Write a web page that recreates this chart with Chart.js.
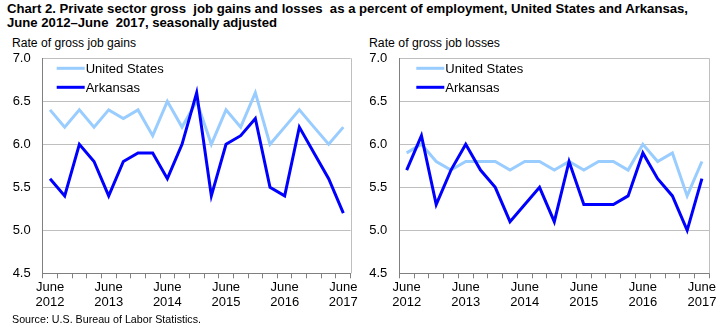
<!DOCTYPE html>
<html>
<head>
<meta charset="utf-8">
<script src="https://cdn.jsdelivr.net/npm/chart.js@4/dist/chart.umd.min.js"></script>
<style>
  html, body { margin: 0; padding: 0; background: #fff; }
  body { width: 726px; height: 333px; position: relative; overflow: hidden;
         font-family: "Liberation Sans", Arial, sans-serif; color: #000; }
  .txt { position: absolute; white-space: nowrap; transform-origin: left center; display: inline-block; }
  .title { font-weight: bold; font-size: 12.5px; line-height: 14px; }
  .axis-title { font-size: 12px; line-height: 14px; }
  .source { font-size: 11px; line-height: 13px; }
  .panel { position: absolute; top: 50px; }
</style>
</head>
<body>
<div class="txt title" style="left:7px; top:2px;" data-w="681">Chart 2. Private sector gross&nbsp; job gains and losses&nbsp; as a percent of employment, United States and Arkansas,</div>
<div class="txt title" style="left:7px; top:16px;" data-w="270">June 2012–June&nbsp; 2017, seasonally adjusted</div>
<div class="txt axis-title" style="left:12px; top:36px;" data-w="124">Rate of gross job gains</div>
<div class="txt axis-title" style="left:369px; top:36px;" data-w="131">Rate of gross job losses</div>
<div class="panel" style="left:0; width:360px; height:283px;"><canvas id="gainsChart" width="360" height="283"></canvas></div>
<div class="panel" style="left:360px; width:366px; height:283px;"><canvas id="lossesChart" width="366" height="283"></canvas></div>
<div class="txt source" style="left:12px; top:313px;" data-w="189">Source: U.S. Bureau of Labor Statistics.</div>

<script>
// Quarterly, June 2012 through June 2017
const quarters = [
  'June 2012', 'Sept 2012', 'Dec 2012', 'Mar 2013',
  'June 2013', 'Sept 2013', 'Dec 2013', 'Mar 2014',
  'June 2014', 'Sept 2014', 'Dec 2014', 'Mar 2015',
  'June 2015', 'Sept 2015', 'Dec 2015', 'Mar 2016',
  'June 2016', 'Sept 2016', 'Dec 2016', 'Mar 2017',
  'June 2017'
];

const seriesNames = ['United States', 'Arkansas'];

// gross job gains, % of employment
const usGains = [6.4, 6.2, 6.4, 6.2, 6.4, 6.3, 6.4, 6.1, 6.5, 6.2, 6.5, 6.0, 6.4, 6.2, 6.6, 6.0, 6.2, 6.4, 6.2, 6.0, 6.2];
const arGains = [5.6, 5.4, 6.0, 5.8, 5.4, 5.8, 5.9, 5.9, 5.6, 6.0, 6.6, 5.4, 6.0, 6.1, 6.3, 5.5, 5.4, 6.2, 5.9, 5.6, 5.2];

// gross job losses, % of employment
const usLosses = [5.9, 6.0, 5.8, 5.7, 5.8, 5.8, 5.8, 5.7, 5.8, 5.8, 5.7, 5.8, 5.7, 5.8, 5.8, 5.7, 6.0, 5.8, 5.9, 5.4, 5.8];
const arLosses = [5.7, 6.1, 5.3, 5.7, 6.0, 5.7, 5.5, 5.1, 5.3, 5.5, 5.1, 5.8, 5.3, 5.3, 5.3, 5.4, 5.9, 5.6, 5.4, 5.0, 5.6];

const yMin = 4.5, yMax = 7.0, yStep = 0.5;

const US_COLOR = '#99CCFF';
const AR_COLOR = '#0000FF';

// squeeze the html labels to their target widths
document.querySelectorAll('.txt[data-w]').forEach(el => {
  const w = el.getBoundingClientRect().width;
  const target = +el.dataset.w;
  el.style.transform = 'scaleX(' + (target / w).toFixed(4) + ')';
});

Chart.defaults.font.family = '"Liberation Sans", Arial, sans-serif';
Chart.defaults.color = '#000';

// legend lines drawn inside the plot, top-left
const insideLegend = {
  id: 'insideLegend',
  afterDatasetsDraw(chart, args, opts) {
    const ctx = chart.ctx;
    const area = chart.chartArea;
    ctx.save();
    ctx.font = '13px "Liberation Sans", Arial, sans-serif';
    ctx.textBaseline = 'middle';
    ctx.fillStyle = '#000';
    chart.data.datasets.forEach((ds, i) => {
      const x = area.left + opts.x;
      const y = area.top + 10 + i * 19;
      ctx.strokeStyle = ds.borderColor;
      ctx.lineWidth = 3;
      ctx.beginPath();
      ctx.moveTo(x, y);
      ctx.lineTo(x + 28, y);
      ctx.stroke();
      ctx.fillText(ds.label, x + 29, y + 1);
    });
    ctx.restore();
  }
};

// right-hand edge of the plot box
const rightEdge = {
  id: 'rightEdge',
  beforeDatasetsDraw(chart) {
    const { ctx, chartArea: a } = chart;
    ctx.save();
    ctx.strokeStyle = '#BFBFBF';
    ctx.lineWidth = 1;
    ctx.beginPath();
    ctx.moveTo(Math.round(a.right) + 0.5, a.top);
    ctx.lineTo(Math.round(a.right) + 0.5, a.bottom);
    ctx.stroke();
    ctx.restore();
  }
};

function makeChart(id, us, ar, yWidth, padRight, legendX) {
  return new Chart(document.getElementById(id), {
    type: 'line',
    data: {
      labels: quarters,
      datasets: [
        { label: seriesNames[0], data: us, borderColor: US_COLOR, order: 2 },
        { label: seriesNames[1], data: ar, borderColor: AR_COLOR, order: 1 }
      ]
    },
    options: {
      responsive: false,
      animation: false,
      layout: { padding: { top: 8.3, right: padRight, left: 0, bottom: 0 } },
      elements: {
        line: { borderWidth: 3, tension: 0, borderCapStyle: 'butt', borderJoinStyle: 'miter' },
        point: { radius: 0, hoverRadius: 0 }
      },
      plugins: {
        legend: { display: false },
        tooltip: { enabled: false },
        insideLegend: { x: legendX }
      },
      scales: {
        x: {
          type: 'category',
          offset: true,
          afterFit: s => { s.height = 59.7; },
          grid: { offset: true, drawOnChartArea: false, drawTicks: true, tickLength: 5, color: '#808080' },
          border: { color: '#808080' },
          ticks: {
            autoSkip: false,
            maxRotation: 0,
            padding: 2,
            font: { size: 13, lineHeight: 1.15 },
            callback(value) {
              const lab = quarters[value];
              return lab.startsWith('June') ? lab.split(' ') : '';
            }
          }
        },
        y: {
          min: yMin,
          max: yMax,
          // fixed width, and no extra room above/below for the end labels
          afterFit: s => { s.width = yWidth; s.paddingTop = 0; s.paddingBottom = 0; },
          grid: { color: '#BFBFBF', drawTicks: false },
          border: { color: '#808080' },
          ticks: {
            stepSize: yStep,
            padding: 12,
            font: { size: 13 },
            callback: v => v.toFixed(1)
          }
        }
      }
    },
    plugins: [insideLegend, rightEdge]
  });
}

makeChart('gainsChart', usGains, arGains, 42.7, 9, 14);
makeChart('lossesChart', usLosses, arLosses, 39.3, 16.7, 17);
</script>
</body>
</html>
